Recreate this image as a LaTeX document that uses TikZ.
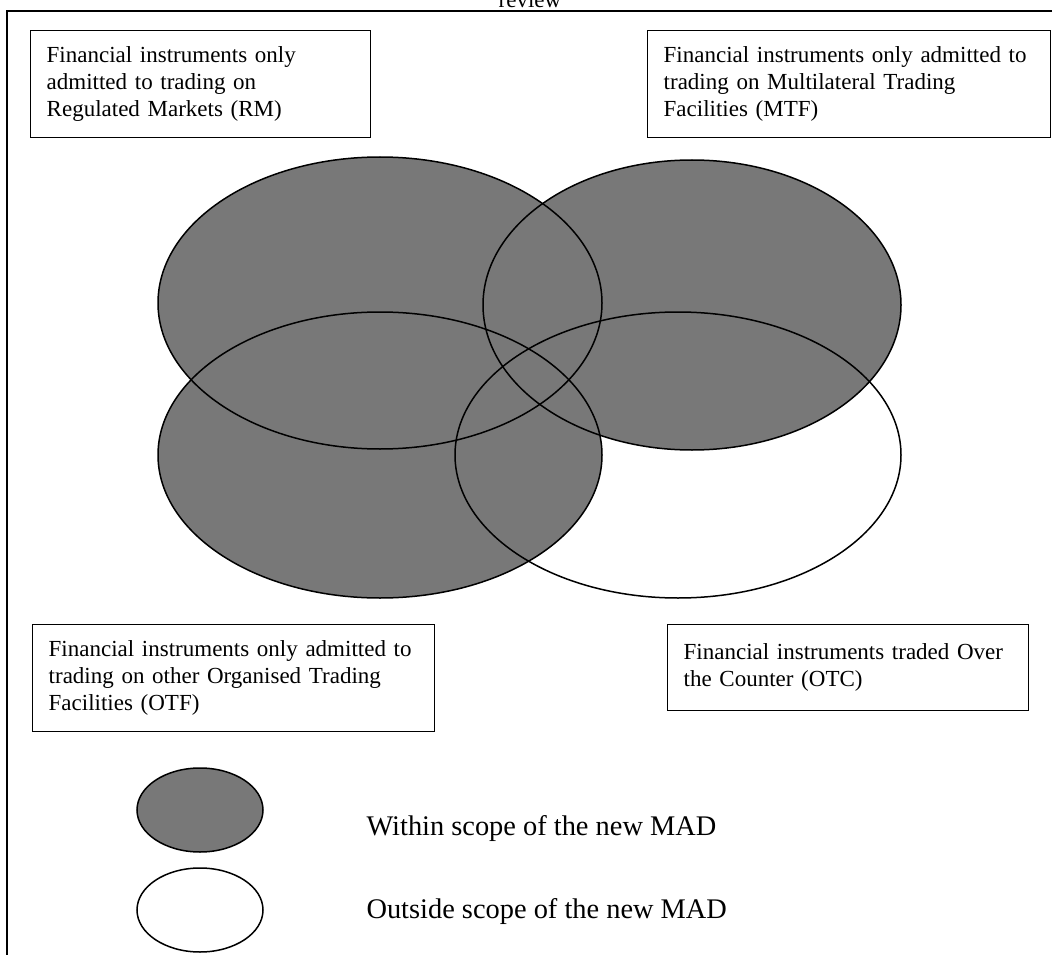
\documentclass[tikz,border=0pt]{standalone}
\usepackage{fontspec}
\setmainfont{Liberation Serif}
\usepackage{tikz}
\usetikzlibrary{calc,shapes,shapes.geometric}

\begin{document}
\begin{tikzpicture}[x=1pt,y=-1pt,
		mad/.style={fill=black!53},
		rim/.style={line width=1.5pt},
		infobox/.style={draw,line width=1.4pt,fill=white,anchor=north west,align=left,
			inner xsep=16pt,inner ysep=0pt,font=\fontsize{23}{27}\selectfont},
		keytext/.style={anchor=base west,font=\fontsize{28.4}{32}\selectfont}]
		\useasboundingbox (0,0) rectangle (1058,955);
		
		% frame
		\draw[line width=1.4pt] (1052,11) -- (7,11) -- (7,960);
		\node (review) [anchor=base,font=\fontsize{23}{27}\selectfont] at (530,8) {review};
		
		\coordinate (RM) at (380,303);
		\coordinate (MTF) at (692,305);
		\coordinate (OTF) at (380,455);
		\coordinate (OTC) at (678,455);
		
		\fill[mad] (RM) ellipse (222 and 146);
		\fill[mad] (MTF) ellipse (209 and 145);
		\fill[mad] (OTF) ellipse (222 and 143);
		
		\draw[rim] (RM) ellipse (222 and 146);
		\draw[rim] (MTF) ellipse (209 and 145);
		\draw[rim] (OTF) ellipse (222 and 143);
		\draw[rim] (OTC) ellipse (223 and 143);
		
		\node (boxRM) [infobox,text width=308pt,minimum height=107pt] at (30,30)
		{Financial instruments only\\admitted to trading on\\Regulated Markets (RM)};
		\node (boxMTF) [infobox,text width=371pt,minimum height=107pt] at (647,30)
		{Financial instruments only admitted to\\trading on Multilateral Trading\\Facilities (MTF)};
		\node (boxOTF) [infobox,text width=370pt,minimum height=107pt] at (32,624)
		{Financial instruments only admitted to\\trading on other Organised Trading\\Facilities (OTF)};
		\node (boxOTC) [infobox,text width=329pt,minimum height=86pt] at (667,624)
		{Financial instruments traded Over\\the Counter (OTC)};
		
		% key
		\coordinate (inkey) at (200,810);
		\coordinate (outkey) at (200,910);
		\fill[mad] (inkey) ellipse (63 and 42);
		\draw[rim] (inkey) ellipse (63 and 42);
		\draw[rim] (outkey) ellipse (63 and 42);
		\node (inscope) [keytext] at (363,835) {Within scope of the new MAD};
		\node (outscope) [keytext] at (363,918) {Outside scope of the new MAD};
		\end{tikzpicture}
\end{document}
